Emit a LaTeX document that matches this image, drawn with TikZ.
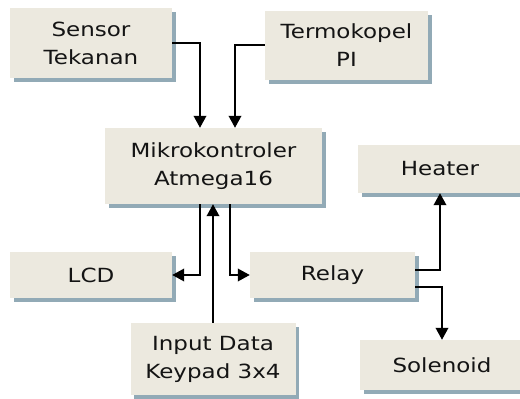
\documentclass[tikz,border=0pt]{standalone}
\usepackage{fontspec}
\setmainfont{DejaVu Sans}[FakeStretch=1.18]
\usepackage{tikz}
\usetikzlibrary{arrows.meta, shadows}
\definecolor{kotakisi}{RGB}{236, 233, 223}
\definecolor{bayang}{RGB}{146, 170, 182}
\definecolor{tulisan}{RGB}{20, 20, 20}

\begin{document}
\begin{tikzpicture}[x=1pt, y=-1pt, >={Triangle[width=12.5pt, length=12pt]},
  every node/.style={font=\fontsize{19.5}{28}\selectfont, text=tulisan, align=center},
  blok/.style={fill=kotakisi, inner sep=0pt, drop shadow={shadow xshift=3.5pt, shadow yshift=-4pt, fill=bayang, opacity=1}},
  jalur/.style={line width=2pt}]
  \useasboundingbox (0,0) rectangle (520,399);
  \node[blok, minimum width=162pt, minimum height=70pt] (sensor) at (91,43) {Sensor\\Tekanan};
  \node[blok, minimum width=163pt, minimum height=69pt] (termo) at (346.5,45) {Termokopel\\PI};
  \node[blok, minimum width=217pt, minimum height=76pt] (mikro) at (213.5,166) {Mikrokontroler\\Atmega16};
  \node[blok, minimum width=164pt, minimum height=48pt] (heater) at (440,169) {Heater};
  \node[blok, minimum width=162pt, minimum height=46pt] (lcd) at (91,275) {LCD};
  \node[blok, minimum width=165pt, minimum height=46pt] (relay) at (332.5,275) {Relay};
  \node[blok, minimum width=165pt, minimum height=72pt] (keypad) at (213,359) {Input Data\\Keypad 3x4};
  \node[blok, minimum width=164pt, minimum height=50pt] (solenoid) at (442,365) {Solenoid};
  % masukan ke mikrokontroler
  \draw[jalur,->] (sensor.east) -| ([xshift=-13.5pt]mikro.north);
  \draw[jalur,->] (termo.west) -| ([xshift=21.5pt]mikro.north);
  \draw[jalur,->] (keypad.north) -- (keypad.north |- mikro.south);
  % keluaran
  \draw[jalur,->] ([xshift=-13.5pt]mikro.south) |- (lcd.east);
  \draw[jalur,->] ([xshift=16.5pt]mikro.south) |- (relay.west);
  \draw[jalur,->] ([yshift=5pt]relay.east) -| (heater.south);
  \draw[jalur,->] ([yshift=-12pt]relay.east) -| (solenoid.north);
\end{tikzpicture}
\end{document}
